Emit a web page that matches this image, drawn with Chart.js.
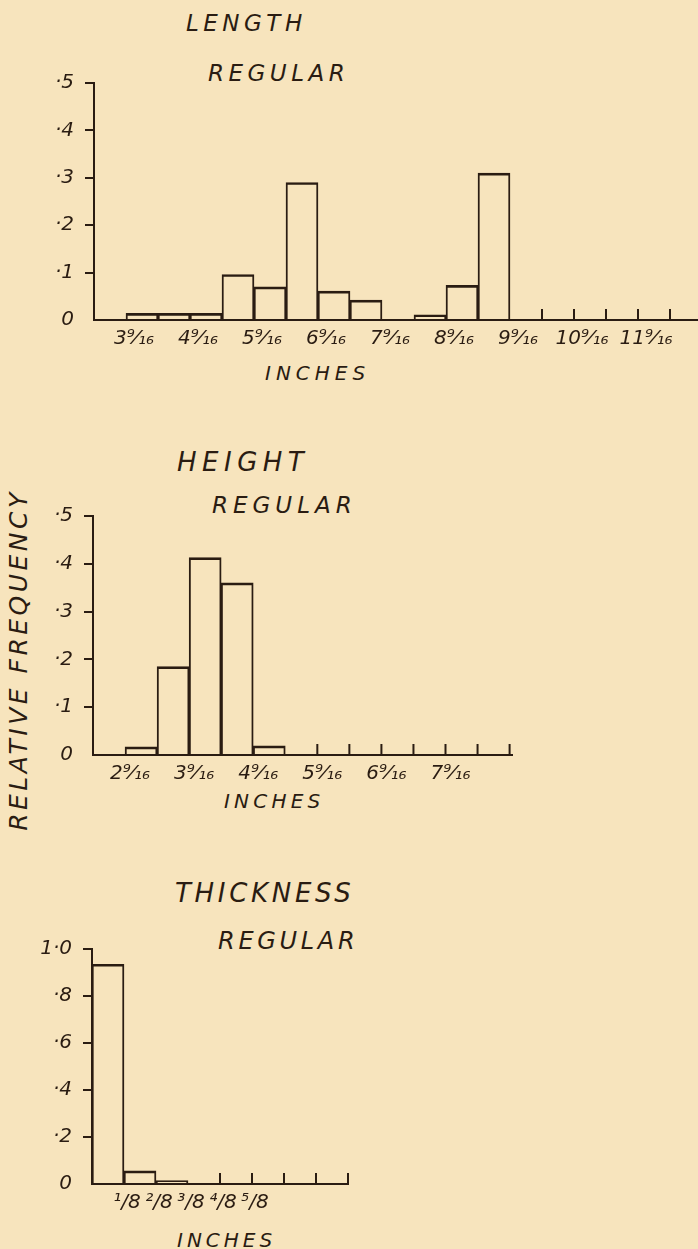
<!DOCTYPE html>
<html>
<head>
<meta charset="utf-8">
<script src="https://cdn.jsdelivr.net/npm/chart.js@4/dist/chart.umd.min.js"></script>
<style>
  body { margin: 0; background: #f7e4bd; width: 698px; height: 1249px; position: relative; overflow: hidden;
         font-family: 'DejaVu Sans', sans-serif; font-style: italic; color: #2a1c12; }
  canvas { position: absolute; left: 0; }
  .lbl { position: absolute; white-space: nowrap; line-height: 1; }
</style>
</head>
<body>
<div class="lbl" style="left:186px; top:12px; font-size:23px; letter-spacing:4.5px">LENGTH</div>
<div class="lbl" style="left:208px; top:62px; font-size:23px; letter-spacing:4.5px">REGULAR</div>
<div class="lbl" style="left:265px; top:363px; font-size:20px; letter-spacing:5px">INCHES</div>

<div class="lbl" style="left:177px; top:449px; font-size:26px; letter-spacing:5.5px">HEIGHT</div>
<div class="lbl" style="left:212px; top:494px; font-size:23px; letter-spacing:5px">REGULAR</div>
<div class="lbl" style="left:224px; top:791px; font-size:20px; letter-spacing:4.2px">INCHES</div>
<div class="lbl" style="left:18px; top:660px; font-size:25px; letter-spacing:3.5px; transform:translate(-50%,-50%) rotate(-90deg)">RELATIVE FREQUENCY</div>

<div class="lbl" style="left:175px; top:880px; font-size:26px; letter-spacing:3.7px">THICKNESS</div>
<div class="lbl" style="left:218px; top:929px; font-size:24px; letter-spacing:3.7px">REGULAR</div>
<div class="lbl" style="left:177px; top:1230px; font-size:20px; letter-spacing:4px">INCHES</div>

<canvas id="graficoLength" width="698" height="300" style="top:60px"></canvas>
<canvas id="graficoHeight" width="520" height="302" style="top:493px"></canvas>
<canvas id="graficoThickness" width="360" height="298" style="top:926px"></canvas>

<script>
const ink = '#2a1c12'

// length: half inch bins, lower edges
const lengthBins = [3.0625, 3.5625, 4.0625, 4.5625, 5.0625, 5.5625, 6.0625, 6.5625, 7.0625, 7.5625,
    8.0625, 8.5625, 9.0625, 9.5625, 10.0625, 10.5625, 11.0625, 11.5625, 12.0625]
const lengthFreq = [0, 0.014, 0.014, 0.014, 0.096, 0.07, 0.29, 0.061, 0.042, 0,
    0.011, 0.073, 0.31, 0, 0, 0, 0, 0, 0]
const lengthTicks = [3.5625, 4.5625, 5.5625, 6.5625, 7.5625, 8.5625, 9.5625, 10.5625, 11.5625]
const lengthTickLabels = ['3⁹⁄₁₆', '4⁹⁄₁₆', '5⁹⁄₁₆', '6⁹⁄₁₆', '7⁹⁄₁₆', '8⁹⁄₁₆', '9⁹⁄₁₆', '10⁹⁄₁₆', '11⁹⁄₁₆']
const lengthMarks = [10.0625, 10.5625, 11.0625, 11.5625, 12.0625]
const lengthYTicks = [0, 0.1, 0.2, 0.3, 0.4, 0.5]
const lengthYLabels = ['0', '·1', '·2', '·3', '·4', '·5']

// height: half inch bins
const heightBins = [2.0625, 2.5625, 3.0625, 3.5625, 4.0625, 4.5625, 5.0625, 5.5625, 6.0625, 6.5625,
    7.0625, 7.5625, 8.0625]
const heightFreq = [0, 0.017, 0.185, 0.413, 0.36, 0.019, 0, 0, 0, 0, 0, 0, 0]
const heightTicks = [2.5625, 3.5625, 4.5625, 5.5625, 6.5625, 7.5625]
const heightTickLabels = ['2⁹⁄₁₆', '3⁹⁄₁₆', '4⁹⁄₁₆', '5⁹⁄₁₆', '6⁹⁄₁₆', '7⁹⁄₁₆']
const heightMarks = [5.5625, 6.0625, 6.5625, 7.0625, 7.5625, 8.0625, 8.5625]
const heightYTicks = [0, 0.1, 0.2, 0.3, 0.4, 0.5]
const heightYLabels = ['0', '·1', '·2', '·3', '·4', '·5']

// thickness: eighth inch bins
const thicknessBins = [0, 0.125, 0.25, 0.375, 0.5, 0.625, 0.75, 0.875]
const thicknessFreq = [0.935, 0.056, 0.015, 0, 0, 0, 0, 0]
const thicknessTicks = [0.125, 0.25, 0.375, 0.5, 0.625]
const thicknessTickLabels = ['¹/8', '²/8', '³/8', '⁴/8', '⁵/8']
const thicknessMarks = [0.5, 0.625, 0.75, 0.875, 1]
const thicknessYTicks = [0, 0.2, 0.4, 0.6, 0.8, 1]
const thicknessYLabels = ['0', '·2', '·4', '·6', '·8', '1·0']

// little upward ticks on the x axis where there is no bar
const edgeMarks = {
    id: 'edgeMarks',
    afterDatasetsDraw(chart, args, opts) {
        if (!opts.values) return
        const x = chart.scales.x
        const base = chart.scales.y.getPixelForValue(0)
        const ctx = chart.ctx
        ctx.save()
        ctx.strokeStyle = ink
        ctx.lineWidth = 2
        opts.values.forEach(v => {
            const px = x.getPixelForValue(v)
            ctx.beginPath()
            ctx.moveTo(px, base)
            ctx.lineTo(px, base - opts.length)
            ctx.stroke()
        })
        ctx.restore()
    }
}
Chart.register(edgeMarks)

function plotHistogram(id, bins, binWidth, freq, xTicks, xLabels, marks, yTicks, yLabels, s) {
    return new Chart(document.getElementById(id), {
        type: 'bar',
        data: {
            datasets: [{
                data: bins.map((b, i) => ({ x: b + binWidth / 2, y: freq[i] })),
                backgroundColor: 'rgba(0,0,0,0)',
                borderColor: ink,
                borderWidth: { top: 2, left: 1.3, right: 1.3, bottom: 0 },
                borderSkipped: 'start',
                barPercentage: 1,
                categoryPercentage: 1
            }]
        },
        options: {
            responsive: false,
            animation: false,
            devicePixelRatio: 1,
            layout: { padding: { top: s.padTop, right: s.padRight, left: 0, bottom: 0 } },
            plugins: {
                legend: { display: false },
                tooltip: { enabled: false },
                edgeMarks: { values: marks, length: 11 }
            },
            scales: {
                x: {
                    type: 'linear',
                    min: s.xMin,
                    max: s.xMax,
                    offset: false,
                    grid: { display: false, drawTicks: false, offset: false },
                    border: { display: true, color: ink, width: 2 },
                    afterBuildTicks: scale => { scale.ticks = xTicks.map(v => ({ value: v })) },
                    afterFit: scale => { scale.height = 40 },
                    ticks: {
                        autoSkip: false,
                        maxRotation: 0,
                        padding: 7,
                        labelOffset: s.labelOffset,
                        color: ink,
                        font: { family: 'DejaVu Sans', size: 20, style: 'italic' },
                        callback: (v, i) => xLabels[i]
                    }
                },
                y: {
                    min: 0,
                    max: s.yMax,
                    grid: {
                        drawOnChartArea: false,
                        drawTicks: true,
                        tickLength: 9,
                        lineWidth: 2,
                        color: c => (c.tick && c.tick.value === 0) ? 'rgba(0,0,0,0)' : ink
                    },
                    border: { display: true, color: ink, width: 2 },
                    afterBuildTicks: scale => { scale.ticks = yTicks.map(v => ({ value: v })) },
                    afterFit: scale => { scale.width = s.yWidth },
                    ticks: {
                        padding: 11,
                        color: ink,
                        font: { family: 'DejaVu Sans', size: 20, style: 'italic' },
                        callback: (v, i) => yLabels[i]
                    }
                }
            }
        }
    })
}

plotHistogram('graficoLength', lengthBins, 0.5, lengthFreq, lengthTicks, lengthTickLabels, lengthMarks,
    lengthYTicks, lengthYLabels,
    { padTop: 21, padRight: 0, yWidth: 94, xMin: 3.0625, xMax: 12.5, yMax: 0.5, labelOffset: 8 })

plotHistogram('graficoHeight', heightBins, 0.5, heightFreq, heightTicks, heightTickLabels, heightMarks,
    heightYTicks, heightYLabels,
    { padTop: 20.5, padRight: 8, yWidth: 93, xMin: 2.0625, xMax: 8.6, yMax: 0.5, labelOffset: 5 })

plotHistogram('graficoThickness', thicknessBins, 0.125, thicknessFreq, thicknessTicks, thicknessTickLabels, thicknessMarks,
    thicknessYTicks, thicknessYLabels,
    { padTop: 20, padRight: 12, yWidth: 92, xMin: 0, xMax: 1, yMax: 1, labelOffset: 3 })
</script>
</body>
</html>
